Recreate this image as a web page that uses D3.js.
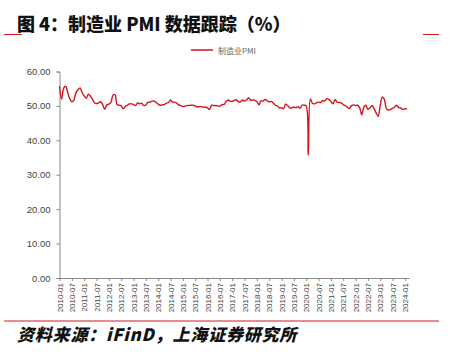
<!DOCTYPE html>
<html><head><meta charset="utf-8">
<script src="https://cdn.jsdelivr.net/npm/d3@7"></script>
<style>
html,body{margin:0;padding:0;background:#fff;}
svg{display:block;}
</style></head>
<body>
<script>
const titleText = "图 4：制造业 PMI 数据跟踪（%）";
const seriesName = "制造业PMI";
const sourceText = "资料来源：iFinD，上海证券研究所";
const startYear = 2010, startMonth = 1;
const pmiValues = [
 55.8,52.0,55.1,55.7,53.9,52.1,51.2,51.7,53.8,54.7,55.2,53.9,
 52.9,52.2,53.4,52.9,52.0,50.9,50.7,50.9,51.2,50.4,49.0,50.3,
 50.5,51.0,53.1,53.3,50.4,50.2,50.1,49.2,49.8,50.2,50.6,50.6,
 50.4,50.1,50.9,50.6,50.8,50.1,50.3,51.0,51.1,51.4,51.4,51.0,
 50.5,50.2,50.3,50.4,50.8,51.0,51.7,51.1,51.1,50.8,50.3,50.1,
 49.8,49.9,50.1,50.1,50.2,50.2,50.0,49.7,49.8,49.8,49.6,49.7,
 49.4,49.0,50.2,50.1,50.1,50.0,49.9,50.4,50.4,51.2,51.7,51.4,
 51.3,51.6,51.8,51.2,51.2,51.7,51.4,51.7,52.4,51.6,51.8,51.6,
 51.3,50.3,51.5,51.4,51.9,51.5,51.2,51.3,50.8,50.2,50.0,49.4,
 49.5,49.2,50.5,50.1,49.4,49.4,49.7,49.5,49.8,49.3,50.2,50.2,
 50.0,35.7,52.0,50.8,50.6,50.9,51.1,51.0,51.5,51.4,52.1,51.9,
 51.3,50.6,51.9,51.1,51.0,50.9,50.4,50.1,49.6,49.2,50.1,50.3,
 50.1,50.2,49.5,47.4,49.6,50.2,49.0,49.4,50.1,49.2,48.0,47.0,
 50.1,52.6,51.9,49.2,48.8,49.0,49.3,49.7,50.2,49.5,49.4,49.0,
 49.2,49.1
];
const yTicks = [0,10,20,30,40,50,60];
const monthLabels = pmiValues.map((v,i)=>{
  const m = (startMonth-1+i);
  const y = startYear + Math.floor(m/12);
  const mm = (m%12)+1;
  return y + "-" + String(mm).padStart(2,"0");
});
const xTickIdx = monthLabels.map((l,i)=>i).filter(i=>i%6===0);

const W=449,H=362;
const svg=d3.select("body").append("svg").attr("width",W).attr("height",H);

// title
svg.append("text").attr("x",17).attr("y",31)
  .attr("font-family","'Noto Sans CJK SC', 'Liberation Sans', sans-serif")
  .attr("font-weight","900").attr("font-size",18).attr("fill","#111")
  .text(titleText);
svg.append("line").attr("x1",4).attr("x2",22).attr("y1",34.5).attr("y2",34.5).attr("stroke","#d7141e").attr("stroke-width",1);
svg.append("line").attr("x1",423).attr("x2",439).attr("y1",34.5).attr("y2",34.5).attr("stroke","#d7141e").attr("stroke-width",1);

// legend
svg.append("line").attr("x1",191).attr("x2",213).attr("y1",50).attr("y2",50).attr("stroke","#d7141e").attr("stroke-width",1.5);
svg.append("text").attr("x",218).attr("y",53.5)
  .attr("font-family","'Noto Sans CJK SC', 'Liberation Sans', sans-serif")
  .attr("font-size",8).attr("fill","#666").text(seriesName);

const x=d3.scaleLinear().domain([0,pmiValues.length]).range([59.5,409]);
const y=d3.scaleLinear().domain([0,60]).range([278,71.5]);

// y axis
const yAxis=svg.append("g").attr("transform","translate(59.5,0)")
  .call(d3.axisLeft(y).tickValues(yTicks).tickSize(3).tickFormat(d=>d3.format(".2f")(d)));
yAxis.selectAll("path,line").attr("stroke","#888");
yAxis.selectAll("text").attr("font-family","'Liberation Sans', Arial, sans-serif").attr("font-size",9.5).attr("fill","#444").attr("x",-9);

// x axis
const xAxis=svg.append("g").attr("transform","translate(0,278)")
  .call(d3.axisBottom(x).tickValues(xTickIdx).tickSize(3).tickSizeOuter(0).tickFormat(i=>monthLabels[i]));
xAxis.selectAll("path,line").attr("stroke","#888");
xAxis.selectAll("text").attr("font-family","'Liberation Sans', Arial, sans-serif").attr("font-size",8).attr("fill","#444")
  .attr("transform","rotate(-90)").attr("text-anchor","end").attr("x",-5).attr("y",0).attr("dy","0.33em");

// line
const line=d3.line().x((d,i)=>x(i)).y(d=>y(d)).curve(d3.curveCatmullRom.alpha(0.5));
svg.append("path").datum(pmiValues).attr("d",line).attr("fill","none").attr("stroke","#d7141e").attr("stroke-width",1.4);

// footer
svg.append("line").attr("x1",4).attr("x2",439).attr("y1",321).attr("y2",321).attr("stroke","#d7141e").attr("stroke-width",1);
svg.append("text").attr("x",17).attr("y",341)
  .attr("font-family","'Noto Sans CJK SC', 'Liberation Sans', sans-serif")
  .attr("font-weight","900").attr("font-style","italic").attr("font-size",17).attr("fill","#111")
  .attr("letter-spacing",0.8)
  .text(sourceText);
</script>
</body></html>
